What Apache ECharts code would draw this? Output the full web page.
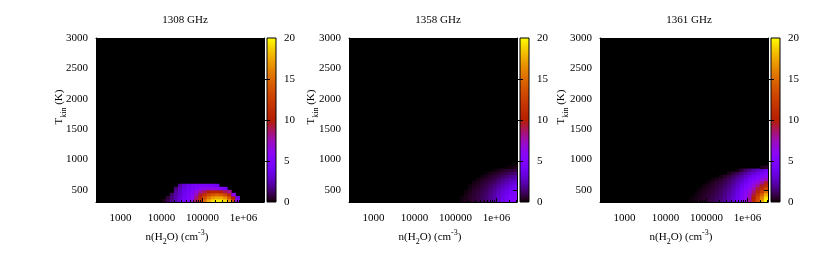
<!DOCTYPE html>
<html><head><meta charset="utf-8">
<script src="https://cdn.jsdelivr.net/npm/echarts@6/dist/echarts.min.js"></script>
<style>html,body{margin:0;padding:0;background:#fff}#c{width:817px;height:264px}</style>
</head><body><div id="c"></div>
<script>
// ---------------- data ----------------
const titles = ['1308 GHz', '1358 GHz', '1361 GHz'];
// log10 n(H2O) cell centres (cell width 0.1 dex)
const logN = [3.95, 4.05, 4.15, 4.25, 4.35, 4.45, 4.55, 4.65, 4.75, 4.85, 4.95, 5.05, 5.15,
  5.25, 5.35, 5.45, 5.55, 5.65, 5.75, 5.85, 5.95, 6.05, 6.15, 6.25, 6.35, 6.45];
// T_kin cell centres (cell height 50 K)
const tkin = [325, 375, 425, 475, 525, 575, 625, 675, 725, 775, 825, 875];
// each inner array = one logN column, values from lowest T upward (missing = 0)
const val1308 = [
  [],
  [0.3],
  [1.0, 0.7],
  [1.8, 1.6, 1.3],
  [2.6, 2.5, 2.3, 2.1, 1.6],
  [3.4, 3.3, 3.1, 2.9, 2.7, 2.2],
  [4.2, 4.1, 4.0, 3.8, 3.6, 3.3],
  [5.0, 4.8, 4.5, 4.3, 4.1, 3.9],
  [6.5, 6.0, 5.5, 5.0, 4.6, 4.3],
  [9.0, 8.5, 7.5, 6.5, 5.2, 4.5],
  [12, 11, 9.5, 8, 5.8, 4.6],
  [15, 13.5, 11.5, 9, 6.2, 4.6],
  [17.5, 15.5, 13, 10, 6.5, 4.5],
  [19, 17, 14, 10.5, 6.5, 4.3],
  [19.5, 17.5, 14.5, 10.5, 6.3, 4.0],
  [19.5, 17.5, 14, 10, 5.5],
  [19, 16.5, 13, 9, 4.5],
  [17, 14, 11, 8],
  [13, 10, 6],
  [6, 4],
  [], [], [], [], [], []
];
const val1358 = [
  [], [], [], [], [], [], [], [], [], [], [], [],
  [0.2, 0.15],
  [0.35, 0.3, 0.25, 0.15],
  [0.5, 0.5, 0.45, 0.35, 0.25, 0.15],
  [0.7, 0.7, 0.6, 0.55, 0.45, 0.35, 0.2],
  [0.9, 0.9, 0.85, 0.75, 0.65, 0.5, 0.35, 0.2],
  [1.15, 1.15, 1.1, 1.0, 0.9, 0.75, 0.6, 0.4, 0.2],
  [1.5, 1.5, 1.4, 1.3, 1.15, 1.0, 0.8, 0.6, 0.35, 0.15],
  [1.9, 1.9, 1.8, 1.65, 1.5, 1.3, 1.05, 0.8, 0.55, 0.3],
  [2.4, 2.4, 2.3, 2.1, 1.9, 1.65, 1.35, 1.05, 0.75, 0.45, 0.15],
  [3.0, 3.0, 2.85, 2.65, 2.4, 2.1, 1.75, 1.4, 1.0, 0.65, 0.3],
  [3.6, 3.6, 3.45, 3.2, 2.9, 2.55, 2.15, 1.75, 1.3, 0.9, 0.45],
  [4.2, 4.2, 4.0, 3.75, 3.4, 3.0, 2.55, 2.1, 1.6, 1.1, 0.6, 0.1],
  [4.8, 4.8, 4.6, 4.3, 3.9, 3.45, 2.95, 2.4, 1.85, 1.3, 0.75, 0.2],
  [5.3, 5.3, 5.1, 4.8, 4.35, 3.85, 3.3, 2.7, 2.1, 1.5, 0.9, 0.3]
];
const val1361 = [
  [], [], [], [], [], [],
  [0.1],
  [0.2, 0.15],
  [0.3, 0.27, 0.2, 0.1],
  [0.45, 0.4, 0.35, 0.25, 0.15],
  [0.6, 0.55, 0.5, 0.4, 0.3, 0.2],
  [0.8, 0.75, 0.65, 0.55, 0.45, 0.35, 0.2],
  [1.0, 0.95, 0.85, 0.75, 0.65, 0.55, 0.4, 0.2],
  [1.25, 1.2, 1.1, 1.0, 0.9, 0.75, 0.6, 0.35],
  [1.6, 1.5, 1.4, 1.3, 1.15, 1.0, 0.8, 0.6, 0.25],
  [2.0, 1.9, 1.8, 1.65, 1.5, 1.3, 1.1, 0.9, 0.5],
  [2.5, 2.4, 2.3, 2.1, 1.9, 1.7, 1.5, 1.2, 0.9, 0.3],
  [3.2, 3.1, 2.9, 2.7, 2.5, 2.3, 2.0, 1.7, 1.3, 0.7],
  [4.0, 3.9, 3.7, 3.5, 3.2, 2.9, 2.6, 2.2, 1.8, 1.2, 0.2],
  [5.0, 4.9, 4.7, 4.4, 4.1, 3.7, 3.3, 2.8, 2.3, 1.7, 0.7],
  [6.3, 6.1, 5.8, 5.4, 5.0, 4.5, 4.0, 3.5, 2.9, 2.2, 1.3],
  [8.0, 7.7, 7.2, 6.7, 6.1, 5.5, 4.9, 4.2, 3.5, 2.8, 1.8],
  [10.5, 10, 9.3, 8.5, 7.5, 6.7, 5.8, 4.9, 4.1, 3.3, 2.3],
  [13.5, 13, 12, 10.5, 9.2, 8.0, 6.8, 5.6, 4.7, 3.8, 2.8],
  [17, 16, 14.5, 12.5, 11, 9.5, 8.0, 6.5, 5.3, 4.4, 3.3, 0.3],
  [20, 19, 17.5, 15, 13, 11, 9.5, 7.5, 6.0, 5.0, 4.0, 0.5]
];
const panels = [val1308, val1358, val1361];
const xTickValues = [1000, 10000, 100000, 1000000];
const xMinorValues = [300, 400, 500, 600, 700, 800, 900,
  2000, 3000, 4000, 5000, 6000, 7000, 8000, 9000,
  20000, 30000, 40000, 50000, 60000, 70000, 80000, 90000,
  200000, 300000, 400000, 500000, 600000, 700000, 800000, 900000,
  2000000, 3000000];
const yTickValues = [500, 1000, 1500, 2000, 2500, 3000];
const cbTicks = [0, 5, 10, 15, 20];
const cbMin = 0, cbMax = 20;
const logXMin = 2.4, logXMax = 6.5, yMin = 300, yMax = 3000;

// ---------------- layout / style ----------------
const FONT = 'Liberation Serif';
const plotLeft = [96, 349, 600];
const plotTop = 38, plotW = 168, plotH = 164;
const cbLeft = [267, 520, 771], cbW = 9;
const dLog = 0.1, dT = 50;

function gp(x) { // gnuplot rgbformulae 7,5,15
  const r = Math.sqrt(x), g = x * x * x, b = Math.max(0, Math.sin(2 * Math.PI * x));
  return 'rgb(' + Math.round(r * 255) + ',' + Math.round(g * 255) + ',' + Math.round(b * 255) + ')';
}
const palette = [];
for (let i = 0; i <= 50; i++) palette.push(gp(i / 50));
const gradStops = palette.map((c, i) => ({ offset: i / 50, color: c }));

const chart = echarts.init(document.getElementById('c'), null, { renderer: 'canvas' });
const grid = [], xAxis = [], yAxis = [], series = [], title = [], graphic = [];
const txt = { color: '#000', fontFamily: FONT, fontSize: 11 };
const xMin = Math.pow(10, logXMin), xMax = Math.pow(10, logXMax);

function xfmt(v) {
  const e = Math.round(Math.log10(v));
  return e >= 6 ? '1e+0' + e : String(Math.round(v));
}
const plainFmt = v => String(v);

for (let p = 0; p < 3; p++) {
  grid.push({ left: plotLeft[p], top: plotTop, width: plotW, height: plotH, show: true,
    backgroundColor: '#000', borderWidth: 0 });
}
for (let p = 0; p < 3; p++) {
  grid.push({ left: cbLeft[p], top: plotTop, width: cbW, height: plotH });
}
for (let p = 0; p < 3; p++) {
  grid.push({ left: plotLeft[p], top: plotTop, width: plotW, height: plotH });
}

for (let p = 0; p < 3; p++) {
  const base = { gridIndex: p, type: 'log', logBase: 10, min: xMin, max: xMax, z: 5, splitLine: { show: false } };
  xAxis.push(Object.assign({}, base, { position: 'bottom',
    axisLine: { show: true, lineStyle: { color: '#000', width: 1 } },
    axisTick: { show: true, inside: true, length: 4, customValues: xTickValues, lineStyle: { color: '#000' } },
    axisLabel: Object.assign({ show: true, customValues: xTickValues, formatter: xfmt, margin: 11 }, txt) }));
  xAxis.push(Object.assign({}, base, { position: 'top',
    axisLine: { show: true, lineStyle: { color: '#000', width: 1 } },
    axisTick: { show: true, inside: true, length: 4, customValues: xTickValues, lineStyle: { color: '#000' } },
    axisLabel: { show: false } }));
  yAxis.push({ gridIndex: p, type: 'value', min: yMin, max: yMax, position: 'left', z: 5,
    splitLine: { show: false },
    axisLine: { show: true, lineStyle: { color: '#000', width: 1 } },
    axisTick: { show: true, inside: true, length: 4, customValues: yTickValues, lineStyle: { color: '#000' } },
    axisLabel: Object.assign({ show: true, customValues: yTickValues, margin: 8, formatter: plainFmt }, txt) });
  yAxis.push({ gridIndex: p, type: 'value', min: yMin, max: yMax, position: 'right', z: 5,
    splitLine: { show: false },
    axisLine: { show: true, lineStyle: { color: '#000', width: 1 } },
    axisTick: { show: true, inside: true, length: 4, customValues: yTickValues, lineStyle: { color: '#000' } },
    axisLabel: { show: false } });
}
// colorbar axes
for (let p = 0; p < 3; p++) {
  xAxis.push({ gridIndex: 3 + p, type: 'value', min: 0, max: 1, show: false });
}
for (let p = 0; p < 3; p++) {
  yAxis.push({ gridIndex: 3 + p, type: 'value', min: cbMin, max: cbMax, interval: 5, position: 'right', z: 5,
    splitLine: { show: false }, axisLine: { show: false },
    axisTick: { show: true, inside: true, length: 3, customValues: cbTicks.slice(1, 4), lineStyle: { color: '#000' } },
    axisLabel: Object.assign({ show: true, margin: 8, customValues: cbTicks, formatter: plainFmt }, txt) });
  yAxis.push({ gridIndex: 3 + p, type: 'value', min: cbMin, max: cbMax, interval: 5, position: 'left', z: 5,
    splitLine: { show: false }, axisLine: { show: false },
    axisTick: { show: true, inside: true, length: 3, customValues: cbTicks.slice(1, 4), lineStyle: { color: '#000' } },
    axisLabel: { show: false } });
}
// minor tick overlay grids
for (let p = 0; p < 3; p++) {
  ['bottom', 'top'].forEach(pos => {
    xAxis.push({ gridIndex: 6 + p, type: 'log', logBase: 10, min: xMin, max: xMax, position: pos, z: 5,
      splitLine: { show: false }, axisLine: { show: false },
      axisTick: { show: true, inside: true, length: 2, customValues: xMinorValues, lineStyle: { color: '#000' } },
      axisLabel: { show: false } });
  });
  yAxis.push({ gridIndex: 6 + p, type: 'value', min: yMin, max: yMax, show: false });
}

// heat cells
for (let p = 0; p < 3; p++) {
  const data = [];
  panels[p].forEach((col, i) => {
    col.forEach((v, j) => { if (v > 0) data.push([Math.pow(10, logN[i]), tkin[j], v]); });
  });
  series.push({
    type: 'custom', xAxisIndex: p * 2, yAxisIndex: p * 2, z: 2, clip: true, silent: true,
    encode: { x: 0, y: 1 },
    data: data,
    renderItem: function (params, api) {
      const lg = Math.log10(api.value(0)), t = api.value(1);
      const a = api.coord([Math.pow(10, lg - dLog / 2), t - dT / 2]);
      const b = api.coord([Math.pow(10, lg + dLog / 2), t + dT / 2]);
      return { type: 'rect', shape: { x: a[0], y: b[1], width: b[0] - a[0] + 0.5, height: a[1] - b[1] + 0.5 },
        style: { fill: api.visual('color') } };
    }
  });
}
// colour bars
for (let p = 0; p < 3; p++) {
  series.push({
    type: 'custom', xAxisIndex: 6 + p, yAxisIndex: 6 + p * 2, z: 2, silent: true,
    data: [[0, cbMin, cbMax]],
    renderItem: function (params, api) {
      const lo = api.coord([0, api.value(1)]), hi = api.coord([1, api.value(2)]);
      return { type: 'rect', shape: { x: lo[0], y: hi[1], width: hi[0] - lo[0], height: lo[1] - hi[1] },
        style: { fill: new echarts.graphic.LinearGradient(0, 1, 0, 0, gradStops), stroke: '#000', lineWidth: 1 } };
    }
  });
}

const rich = {
  m: { fontFamily: FONT, fontSize: 11, color: '#000', lineHeight: 17 },
  s: { fontFamily: FONT, fontSize: 8, color: '#000', lineHeight: 9, verticalAlign: 'bottom' },
  u: { fontFamily: FONT, fontSize: 8, color: '#000', lineHeight: 9, verticalAlign: 'top' }
};
const ylabX = [59.5, 311, 561];
for (let p = 0; p < 3; p++) {
  const cx = plotLeft[p] + plotW / 2;
  title.push({ text: titles[p], left: cx, top: 10, textAlign: 'center',
    textStyle: { color: '#000', fontFamily: FONT, fontSize: 11, fontWeight: 'normal' } });
  graphic.push({ type: 'text', x: cx - 3, y: 237, silent: true,
    style: { text: '{m|n(H}{s|2}{m|O) (cm}{u|-3}{m|)}', rich: rich, align: 'center', verticalAlign: 'middle' } });
  graphic.push({ type: 'text', x: ylabX[p], y: 107, rotation: Math.PI / 2, silent: true,
    style: { text: '{m|T}{s|kin}{m| (K)}', rich: rich, align: 'center', verticalAlign: 'middle' } });
}

chart.setOption({
  backgroundColor: '#fff',
  animation: false,
  title: title,
  grid: grid,
  xAxis: xAxis,
  yAxis: yAxis,
  visualMap: { type: 'continuous', show: false, min: cbMin, max: cbMax, dimension: 2, seriesIndex: [0, 1, 2],
    inRange: { color: palette } },
  graphic: graphic,
  series: series
});
</script></body></html>
